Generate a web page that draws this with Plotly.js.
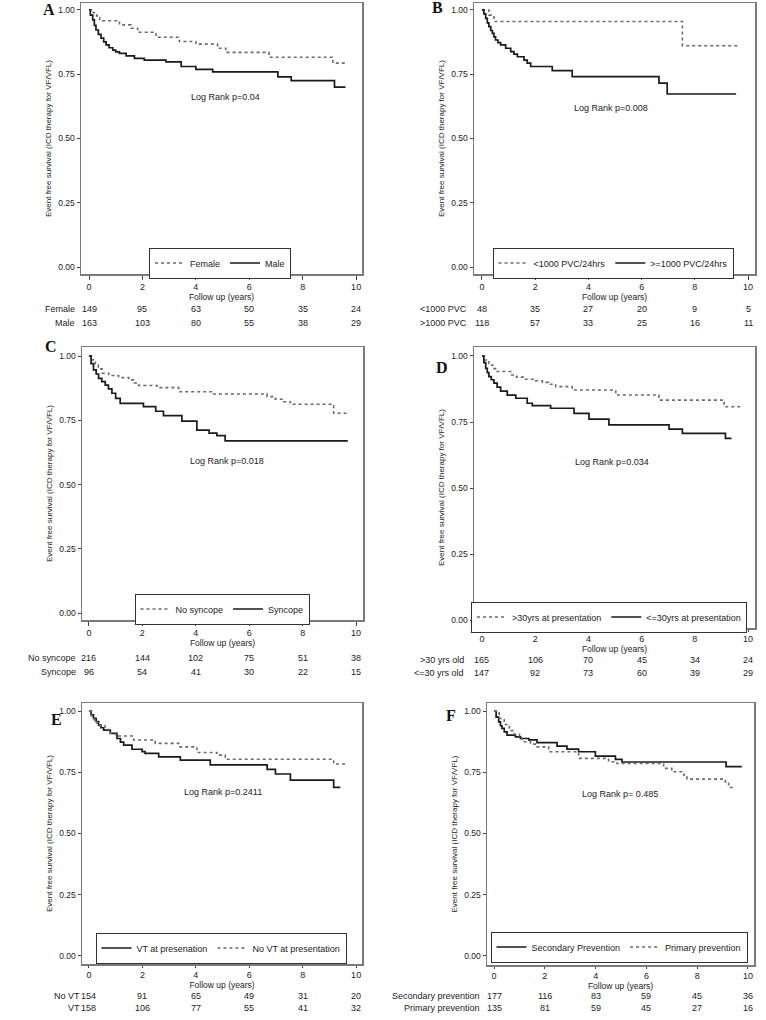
<!DOCTYPE html>
<html>
<head>
<meta charset="utf-8">
<script src="https://cdn.plot.ly/plotly-3.0.1.min.js"></script>
<style>
html,body{margin:0;padding:0;background:#fff;}
#chart{width:766px;height:1020px;}
</style>
</head>
<body>
<div id="chart"></div>
<script>
// ---------------- DATA ----------------
const riskTimes = [0, 2, 4, 6, 8, 10];
const yTickVals = [0, 0.25, 0.5, 0.75, 1];
const yTickText = ["0.00", "0.25", "0.50", "0.75", "1.00"];
const xTickVals = [0, 2, 4, 6, 8, 10];
const yTitle = "Event free survival (ICD therapy for VF/VFL)";
const xTitle = "Follow up (years)";
const panelLetters = ["A", "B", "C", "D", "E", "F"];
const logRankText = ["Log Rank p=0.04", "Log Rank p=0.008", "Log Rank p=0.018", "Log Rank p=0.034", "Log Rank p=0.2411", "Log Rank p= 0.485"];

// Panel A
const femaleT = [0, 0.1, 0.2, 0.3, 0.4, 0.51, 1.14, 1.57, 1.82, 2.51, 3.38, 4.0, 4.81, 5.12, 6.74, 9.13, 9.6];
const femaleS = [1, 0.99, 0.98, 0.97, 0.963, 0.958, 0.942, 0.929, 0.913, 0.894, 0.877, 0.867, 0.851, 0.835, 0.816, 0.793, 0.793];
const maleT = [0, 0.05, 0.14, 0.2, 0.26, 0.35, 0.45, 0.55, 0.64, 0.75, 0.89, 1.0, 1.14, 1.39, 1.70, 2.07, 2.88, 3.45, 4.0, 4.63, 7.07, 7.57, 9.19, 9.6];
const maleS = [1, 0.98, 0.961, 0.94, 0.922, 0.905, 0.89, 0.876, 0.864, 0.853, 0.844, 0.837, 0.831, 0.821, 0.812, 0.805, 0.798, 0.78, 0.769, 0.759, 0.74, 0.725, 0.70, 0.70];
const riskFemale = [149, 95, 63, 50, 35, 24];
const riskMale = [163, 103, 80, 55, 38, 29];

// Panel B
const lowPvcT = [0, 0.26, 0.45, 7.53, 9.6];
const lowPvcS = [1, 0.98, 0.955, 0.861, 0.861];
const highPvcT = [0, 0.07, 0.14, 0.2, 0.26, 0.33, 0.39, 0.45, 0.51, 0.6, 0.70, 0.89, 1.08, 1.2, 1.33, 1.58, 1.7, 1.83, 2.64, 3.39, 6.65, 6.96, 9.55];
const highPvcS = [1, 0.985, 0.967, 0.95, 0.935, 0.92, 0.909, 0.895, 0.883, 0.873, 0.864, 0.851, 0.838, 0.828, 0.818, 0.805, 0.793, 0.78, 0.764, 0.741, 0.715, 0.673, 0.673];
const riskLowPvc = [48, 35, 27, 20, 9, 5];
const riskHighPvc = [118, 57, 33, 25, 16, 11];

// Panel C
const noSyncT = [0, 0.1, 0.24, 0.35, 0.49, 0.74, 1.11, 1.49, 1.7, 1.86, 2.55, 3.36, 4.67, 6.67, 6.98, 7.3, 7.54, 9.16, 9.66];
const noSyncS = [1, 0.985, 0.965, 0.95, 0.933, 0.924, 0.916, 0.907, 0.895, 0.885, 0.877, 0.861, 0.852, 0.842, 0.832, 0.822, 0.812, 0.777, 0.777];
const syncT = [0, 0.08, 0.17, 0.27, 0.36, 0.48, 0.61, 0.73, 0.86, 1.0, 1.17, 2.04, 2.5, 2.79, 3.48, 4.04, 4.5, 4.79, 5.1, 9.69];
const syncS = [1, 0.97, 0.946, 0.93, 0.913, 0.9, 0.887, 0.872, 0.855, 0.835, 0.816, 0.803, 0.785, 0.768, 0.747, 0.712, 0.70, 0.69, 0.67, 0.67];
const riskNoSync = [216, 144, 102, 75, 51, 38];
const riskSync = [96, 54, 41, 30, 22, 15];

// Panel D
const over30T = [0, 0.1, 0.26, 0.4, 0.51, 1.08, 1.3, 1.58, 2.0, 2.27, 2.5, 2.77, 3.39, 5.03, 6.65, 9.10, 9.72];
const over30S = [1, 0.985, 0.966, 0.952, 0.941, 0.928, 0.92, 0.912, 0.906, 0.9, 0.893, 0.884, 0.871, 0.852, 0.833, 0.808, 0.808];
const under30T = [0, 0.07, 0.14, 0.2, 0.26, 0.35, 0.45, 0.57, 0.70, 0.95, 1.27, 1.70, 1.89, 2.58, 3.46, 4.02, 4.77, 7.03, 7.53, 9.15, 9.38];
const under30S = [1, 0.975, 0.953, 0.937, 0.922, 0.91, 0.897, 0.882, 0.867, 0.852, 0.840, 0.821, 0.812, 0.802, 0.783, 0.761, 0.739, 0.723, 0.707, 0.688, 0.688];
const riskOver30 = [165, 106, 70, 45, 34, 24];
const riskUnder30 = [147, 92, 73, 60, 39, 29];

// Panel E
const vtT = [0, 0.08, 0.17, 0.27, 0.36, 0.45, 0.55, 0.80, 1.05, 1.18, 1.30, 1.61, 1.99, 2.1, 2.61, 3.42, 4.54, 6.67, 6.98, 7.54, 9.16, 9.41];
const vtS = [1, 0.985, 0.970, 0.957, 0.943, 0.932, 0.922, 0.909, 0.888, 0.873, 0.861, 0.844, 0.834, 0.827, 0.813, 0.800, 0.780, 0.762, 0.743, 0.718, 0.688, 0.688];
const noVtT = [0, 0.1, 0.2, 0.3, 0.4, 0.6, 0.8, 1.0, 1.67, 2.48, 3.36, 4.04, 4.79, 5.1, 9.16, 9.66];
const noVtS = [1, 0.98, 0.96, 0.95, 0.94, 0.925, 0.91, 0.898, 0.882, 0.868, 0.854, 0.831, 0.820, 0.803, 0.784, 0.784];
const riskNoVt = [154, 91, 65, 49, 31, 20];
const riskVt = [158, 106, 77, 55, 41, 32];

// Panel F
const secT = [0, 0.08, 0.18, 0.25, 0.31, 0.4, 0.51, 0.84, 1.04, 1.37, 1.69, 2.48, 2.87, 3.33, 3.99, 4.78, 5.04, 9.14, 9.76];
const secS = [1, 0.975, 0.956, 0.94, 0.929, 0.915, 0.902, 0.895, 0.888, 0.882, 0.871, 0.857, 0.845, 0.834, 0.816, 0.803, 0.792, 0.773, 0.773];
const primT = [0, 0.2, 0.4, 0.6, 0.8, 1.0, 1.10, 1.43, 1.69, 2.15, 3.33, 4.51, 4.84, 6.68, 7.0, 7.47, 7.6, 9.11, 9.24, 9.44];
const primS = [1, 0.97, 0.945, 0.92, 0.905, 0.89, 0.875, 0.865, 0.854, 0.834, 0.807, 0.793, 0.786, 0.766, 0.752, 0.739, 0.722, 0.711, 0.688, 0.688];
const riskSec = [177, 116, 83, 59, 45, 36];
const riskPrim = [135, 81, 59, 45, 27, 16];

// ---------------- PANELS ----------------
const panels = [
  { curves: [
      {name: "Female", t: femaleT, s: femaleS, style: "dot"},
      {name: "Male", t: maleT, s: maleS, style: "solid"}],
    rows: [["Female", riskFemale], ["Male", riskMale]],
    lr: [5.1, 0.66] },
  { curves: [
      {name: "<1000 PVC/24hrs", t: lowPvcT, s: lowPvcS, style: "dot"},
      {name: ">=1000 PVC/24hrs", t: highPvcT, s: highPvcS, style: "solid"}],
    rows: [["<1000 PVC", riskLowPvc], [">1000 PVC", riskHighPvc]],
    lr: [4.85, 0.62] },
  { curves: [
      {name: "No syncope", t: noSyncT, s: noSyncS, style: "dot"},
      {name: "Syncope", t: syncT, s: syncS, style: "solid"}],
    rows: [["No syncope", riskNoSync], ["Syncope", riskSync]],
    lr: [5.17, 0.59] },
  { curves: [
      {name: ">30yrs at presentation", t: over30T, s: over30S, style: "dot"},
      {name: "<=30yrs at presentation", t: under30T, s: under30S, style: "solid"}],
    rows: [[">30 yrs old", riskOver30], ["<=30 yrs old", riskUnder30]],
    lr: [4.89, 0.60] },
  { curves: [
      {name: "VT at presenation", t: vtT, s: vtS, style: "solid"},
      {name: "No VT at presentation", t: noVtT, s: noVtS, style: "dot"}],
    rows: [["No VT", riskNoVt], ["VT", riskVt]],
    lr: [5.0, 0.67] },
  { curves: [
      {name: "Secondary Prevention", t: secT, s: secS, style: "solid"},
      {name: "Primary prevention", t: primT, s: primS, style: "dot"}],
    rows: [["Secondary prevention", riskSec], ["Primary prevention", riskPrim]],
    lr: [4.96, 0.66] }
];

// layout geometry (pixels): plot box, axis ranges, letter, legend centre, risk rows, row-label right edge
const W = 766, H = 1020;
const geom = [
  {box: [81, 3, 362, 274],   xr: [-0.30, 10.22], yr: [-0.027, 1.027], letter: [41, 10],  leg: [220, 263], rowY: [309, 323],  labR: 77,  tl: 4},
  {box: [474, 3, 755, 274],  xr: [-0.30, 10.26], yr: [-0.027, 1.027], letter: [430, 8],  leg: [613, 263], rowY: [309, 323],  labR: 469, tl: 4},
  {box: [82, 347, 363, 620], xr: [-0.26, 10.26], yr: [-0.027, 1.035], letter: [43, 346], leg: [222, 609], rowY: [658, 672],  labR: 78,  tl: 4},
  {box: [474, 347, 755, 628],xr: [-0.30, 10.26], yr: [-0.030, 1.034], letter: [434, 367],leg: [609, 617], rowY: [660, 673],  labR: 466, tl: 2},
  {box: [82, 703, 362, 964], xr: [-0.26, 10.22], yr: [-0.033, 1.033], letter: [49, 719], leg: [221, 948], rowY: [996, 1008], labR: 82,  tl: 2},
  {box: [487, 703, 754, 965],xr: [-0.28, 10.24], yr: [-0.037, 1.033], letter: [444, 715],leg: [619, 947], rowY: [996, 1008], labR: 482, tl: 2}
];

const px = v => v / W;
const py = v => 1 - v / H;
const FONT = "Liberation Sans, Arial, Helvetica, sans-serif";
const TXT = "#222";

const traces = [];
const layout = {
  width: W, height: H,
  margin: {l: 0, r: 0, t: 0, b: 0},
  paper_bgcolor: "#fff", plot_bgcolor: "#fff",
  font: {family: FONT, size: 9, color: TXT},
  showlegend: true,
  annotations: []
};

panels.forEach((p, i) => {
  const g = geom[i];
  const n = i + 1;
  const xa = n === 1 ? "x" : "x" + n;
  const ya = n === 1 ? "y" : "y" + n;
  const legName = n === 1 ? "legend" : "legend" + n;

  p.curves.forEach(c => {
    traces.push({
      type: "scatter", mode: "lines",
      x: c.t, y: c.s, name: c.name,
      xaxis: xa, yaxis: ya, legend: legName,
      line: c.style === "dot"
        ? {shape: "hv", dash: "dot", width: 1.6, color: "#6a6a6a"}
        : {shape: "hv", width: 1.7, color: "#1a1a1a"},
      hoverinfo: "skip"
    });
  });

  layout[(n === 1 ? "xaxis" : "xaxis" + n)] = {
    domain: [px(g.box[0]), px(g.box[2])],
    anchor: ya, range: g.xr,
    tickvals: xTickVals, ticks: "outside", ticklen: g.tl, tickcolor: "#444", tickwidth: 1,
    showgrid: false, zeroline: false,
    showline: true, mirror: true, linecolor: "#7a7a7a", linewidth: 1.5,
    tickfont: {size: 9, color: TXT},
    title: {text: xTitle, font: {size: 8.5, color: TXT}, standoff: 0},
    automargin: false
  };
  layout[(n === 1 ? "yaxis" : "yaxis" + n)] = {
    domain: [py(g.box[3]), py(g.box[1])],
    anchor: xa, range: g.yr,
    tickvals: yTickVals, ticktext: yTickText, ticks: "outside", ticklen: 3, tickcolor: "#444", tickwidth: 1,
    showgrid: false, zeroline: false,
    showline: true, mirror: true, linecolor: "#7a7a7a", linewidth: 1.5,
    tickfont: {size: 8.5, color: TXT},
    title: {text: yTitle, font: {size: 8, color: TXT}, standoff: 5},
    automargin: false
  };
  layout[legName] = {
    x: px(g.leg[0]), y: py(g.leg[1]), xanchor: "center", yanchor: "middle",
    xref: "paper", yref: "paper",
    orientation: "h", traceorder: "normal",
    bgcolor: "#fff", bordercolor: "#333", borderwidth: 1,
    font: {size: 9, color: TXT}, itemwidth: 30
  };

  // panel letter
  layout.annotations.push({
    xref: "paper", yref: "paper", x: px(g.letter[0]), y: py(g.letter[1]),
    xanchor: "left", yanchor: "middle", showarrow: false,
    text: "<b>" + panelLetters[i] + "</b>",
    font: {family: "Liberation Serif, Times New Roman, serif", size: 16, color: "#111"}
  });
  // log rank
  layout.annotations.push({
    xref: xa, yref: ya, x: p.lr[0], y: p.lr[1],
    xanchor: "center", yanchor: "middle", showarrow: false,
    text: logRankText[i], font: {size: 9, color: TXT}
  });
  // number at risk rows
  p.rows.forEach((row, r) => {
    layout.annotations.push({
      xref: "paper", yref: "paper", x: px(g.labR), y: py(g.rowY[r]),
      xanchor: "right", yanchor: "middle", showarrow: false,
      text: row[0], font: {size: 9, color: TXT}
    });
    row[1].forEach((v, k) => {
      layout.annotations.push({
        xref: xa, yref: "paper", x: riskTimes[k], y: py(g.rowY[r]),
        xanchor: "center", yanchor: "middle", showarrow: false,
        text: String(v), font: {size: 9, color: TXT}
      });
    });
  });
});

Plotly.newPlot("chart", traces, layout, {displayModeBar: false, staticPlot: true});
</script>
</body>
</html>
